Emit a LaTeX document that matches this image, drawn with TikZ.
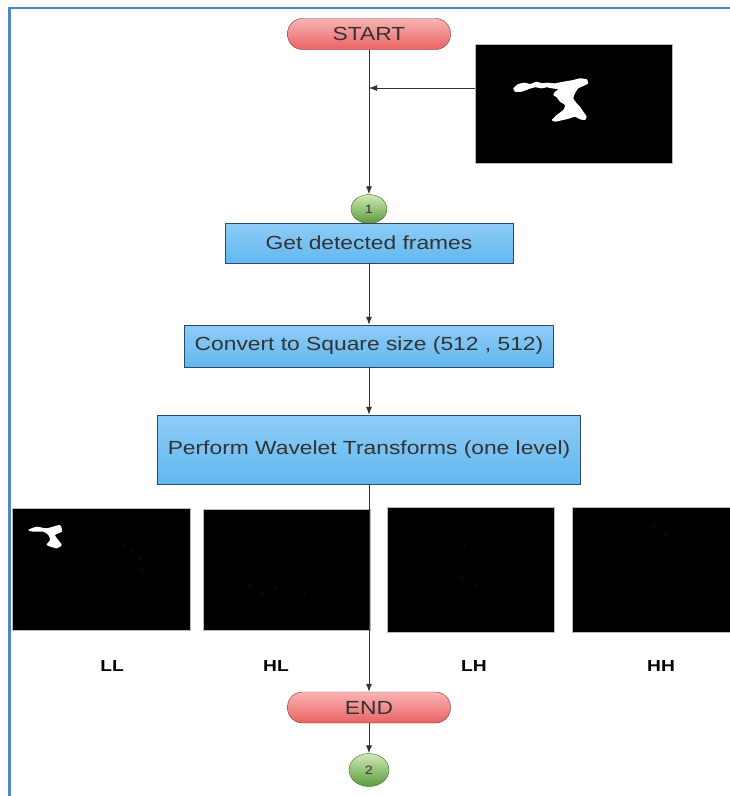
\documentclass[tikz,border=0pt]{standalone}
\usepackage{fontspec}
\setmainfont{Liberation Sans}[FakeStretch=1.2]
\usetikzlibrary{shapes.geometric, arrows.meta}
\definecolor{FrameBlue}{HTML}{4F86C6}
\definecolor{PillTop}{HTML}{F9B4B4}
\definecolor{PillMid}{HTML}{E44444}
\definecolor{PillBot}{HTML}{EA6262}
\definecolor{PillLine}{HTML}{8E2E2E}
\definecolor{BoxTop}{HTML}{8ECCF6}
\definecolor{BoxMid}{HTML}{DCF1FD}
\definecolor{BoxBot}{HTML}{62B8EF}
\definecolor{BoxLine}{HTML}{2A4A66}
\definecolor{DotTop}{HTML}{CFEAB4}
\definecolor{DotBot}{HTML}{5C9A3C}
\definecolor{DotLine}{HTML}{3E6B2C}
\definecolor{InkGray}{HTML}{333333}

\begin{document}
\begin{tikzpicture}[x=1pt, y=-1pt, >={Latex[length=8pt,width=6pt]},
  every node/.style={font=\fontsize{19}{22}\selectfont, text=InkGray},
  pill/.style={draw=PillLine, rounded corners=15pt, minimum width=163pt, minimum height=31pt,
    top color=PillTop, middle color=PillMid, bottom color=PillBot},
  proc/.style={draw=BoxLine, rectangle, inner sep=0pt,
    top color=BoxTop, middle color=BoxMid, bottom color=BoxBot},
  dot/.style={draw=DotLine, ellipse, inner sep=0pt, top color=DotTop, bottom color=DotBot,
    font=\fontsize{12}{14}\selectfont},
  pic/.style={draw=gray!55, fill=black, inner sep=0pt},
  band/.style={font=\bfseries\fontsize{16}{18}\selectfont, text=black},
  conn/.style={draw=InkGray, line width=0.8pt, ->},
  speck/.style={fill=gray!25!black}]
\useasboundingbox (0,0) rectangle (730,796);

% Frame
\draw[FrameBlue, line width=2.5pt] (9.5,796) -- (9.5,8) -- (730,8);

% Input frame
\node[pic, minimum width=197pt, minimum height=119pt] (img) at (573.5,103.5) {};
\fill[white] plot[smooth cycle, tension=0.3] coordinates {
  (513.3,88.3) (518.3,84) (525,82.7) (530,84) (536.7,81.7) (541.7,83.3) (546.7,82.7)
  (555,83.3) (563.3,81.7) (573.3,80) (580,78.3) (586.7,79.3) (588.3,83.3) (583.3,86)
  (578.3,88.3) (575,93.3) (573.3,98.3) (576.7,103.3) (580,106.7) (583.3,111.7)
  (586.7,116.7) (585,120) (580,119.3) (575,116.7) (570,118.3) (563.3,120) (555,121.7)
  (551.7,120) (556.7,115) (563.3,110) (565,105) (560,101.7) (556.7,97.3) (553.3,95)
  (555,91.7) (558.3,89.3) (551.7,88.3) (546.7,87.3) (541.7,88.3) (535,87.3)
  (528.3,89.3) (521.7,91.7) (515,91.7)};

% Flow
\node[pill] (start) at (369,34) {START};
\node[dot, minimum width=36pt, minimum height=29pt] (c1) at (369,209) {1};
\node[proc, minimum width=288pt, minimum height=40pt] (get) at (369,243) {Get detected frames};
\node[proc, minimum width=369pt, minimum height=42pt] (conv) at (369,346) {Convert to Square size (512 , 512)};
\node[proc, minimum width=423pt, minimum height=69pt] (wav) at (369,449.5) {Perform Wavelet Transforms (one level)};

% Sub-bands
\node[pic, minimum width=178pt, minimum height=122pt] (ll) at (101,569) {};
\node[pic, minimum width=167pt, minimum height=121pt] (hl) at (286.5,569.5) {};
\node[pic, minimum width=167pt, minimum height=125pt] (lh) at (470.5,569.5) {};
\node[pic, minimum width=160pt, minimum height=125pt] (hh) at (652,569.5) {};
\fill[white] plot[smooth cycle, tension=0.4] coordinates {
  (28.3,530) (36.7,526.7) (46.7,528.3) (60,525) (61.7,531.7) (55,535) (58.3,540)
  (61.7,545) (56.7,548.3) (46.7,545) (50,540) (48.3,535) (43.3,531.7) (33.3,531.7)};
\foreach \x/\y in {125/545, 131/551, 140/558, 142/570, 48/596, 250/585, 262/593, 275/588,
  290/600, 305/594, 440/549, 452/552, 465/546, 480/562, 462/578, 475/585, 654/526, 662/520, 666/535}
  \fill[speck] (\x,\y) circle (0.9pt);

\node[band] (lll) at (112,666) {LL};
\node[band] (hll) at (276,666) {HL};
\node[band] (lhl) at (474,666) {LH};
\node[band] (hhl) at (661,666) {HH};

\node[pill] (end) at (369,707.5) {END};
\node[dot, minimum width=40pt, minimum height=33pt] (c2) at (369,770) {2};

% Connectors
\coordinate (tap) at (475,88);
\coordinate (join) at (start.south |- tap);
\draw[conn] (start) -- (c1);
\draw[conn] (tap) -- (join);
\draw[conn] (get) -- (conv);
\draw[conn] (conv) -- (wav);
\draw[conn] (wav) -- (end);
\draw[conn] (end) -- (c2);
\end{tikzpicture}
\end{document}
